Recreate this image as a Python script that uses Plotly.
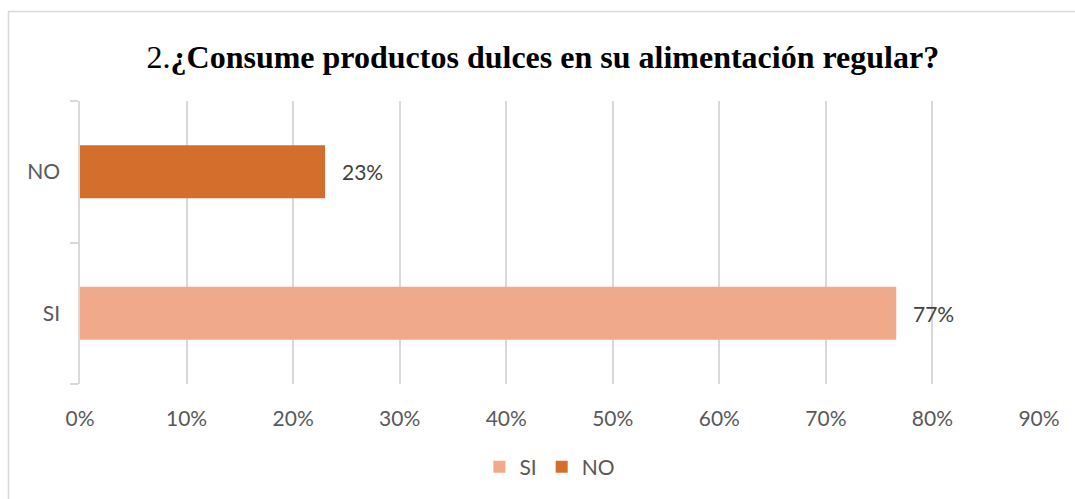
import plotly.graph_objects as go

categories = ["SI", "NO"]
values = [0.766, 0.23]
colors = ["#F0A98A", "#D46E2C"]
x_ticks = [0, 0.1, 0.2, 0.3, 0.4, 0.5, 0.6, 0.7, 0.8, 0.9]
x_tick_labels = ["0%", "10%", "20%", "30%", "40%", "50%", "60%", "70%", "80%", "90%"]
title_prefix = "2."
title_main = "¿Consume productos dulces en su alimentación regular?"

W, H = 1075, 499
L, R, T, B = 80, 36, 101, 115
pw, ph = W - L - R, H - T - B

def px_x(px):
    return (px - L) / pw

def px_y(py):
    return (H - B - py) / ph

fig = go.Figure()
for cat, val, col in zip(categories, values, colors):
    fig.add_trace(go.Bar(
        x=[val], y=[cat], name=cat, orientation="h",
        marker=dict(color=col, line=dict(width=0)),
        width=0.375,
    ))
    fig.add_annotation(
        x=val, y=cat, xref="x", yref="y",
        text=f"{val:.0%}", showarrow=False,
        xanchor="left", xshift=15,
        font=dict(family="Lato", size=21, color="#404040"),
    )

fig.add_shape(
    type="rect", xref="paper", yref="paper",
    x0=px_x(8.5), x1=px_x(1090), y0=px_y(520), y1=px_y(11.5),
    line=dict(color="#D9D9D9", width=1.5), fillcolor="rgba(0,0,0,0)",
    layer="below",
)

fig.update_layout(
    width=W, height=H,
    margin=dict(l=L, r=R, t=T, b=B),
    paper_bgcolor="white", plot_bgcolor="white",
    barmode="overlay",
    title=dict(
        text=f"<span style='font-weight:normal'>{title_prefix}</span><b>{title_main}</b>",
        x=0.505, xanchor="center", xref="container",
        y=1 - 57 / H, yanchor="middle",
        font=dict(family="Liberation Serif", size=32, color="#000000"),
    ),
    xaxis=dict(
        range=[0, 0.9], tickvals=x_ticks, ticktext=x_tick_labels,
        showgrid=True, gridcolor="#D9D9D9", gridwidth=1.5,
        zeroline=False, showline=False, ticks="",
        tickfont=dict(family="Lato", size=21, color="#595959"),
        ticklabelstandoff=20,
    ),
    yaxis=dict(
        categoryorder="array", categoryarray=categories,
        showgrid=False, zeroline=False,
        showline=True, linecolor="#D9D9D9", linewidth=1.5,
        ticks="outside", tickson="boundaries", ticklen=8,
        tickcolor="#D9D9D9", tickwidth=1.5,
        tickfont=dict(family="Lato", size=21, color="#595959"),
        ticklabelstandoff=14,
    ),
    showlegend=True,
    legend=dict(
        orientation="h", x=0.49, xanchor="center",
        y=px_y(467), yanchor="middle",
        font=dict(family="Lato", size=21, color="#595959"),
        itemwidth=30, tracegroupgap=0,
    ),
    bargap=0.6,
)

fig.write_html("out.html")
